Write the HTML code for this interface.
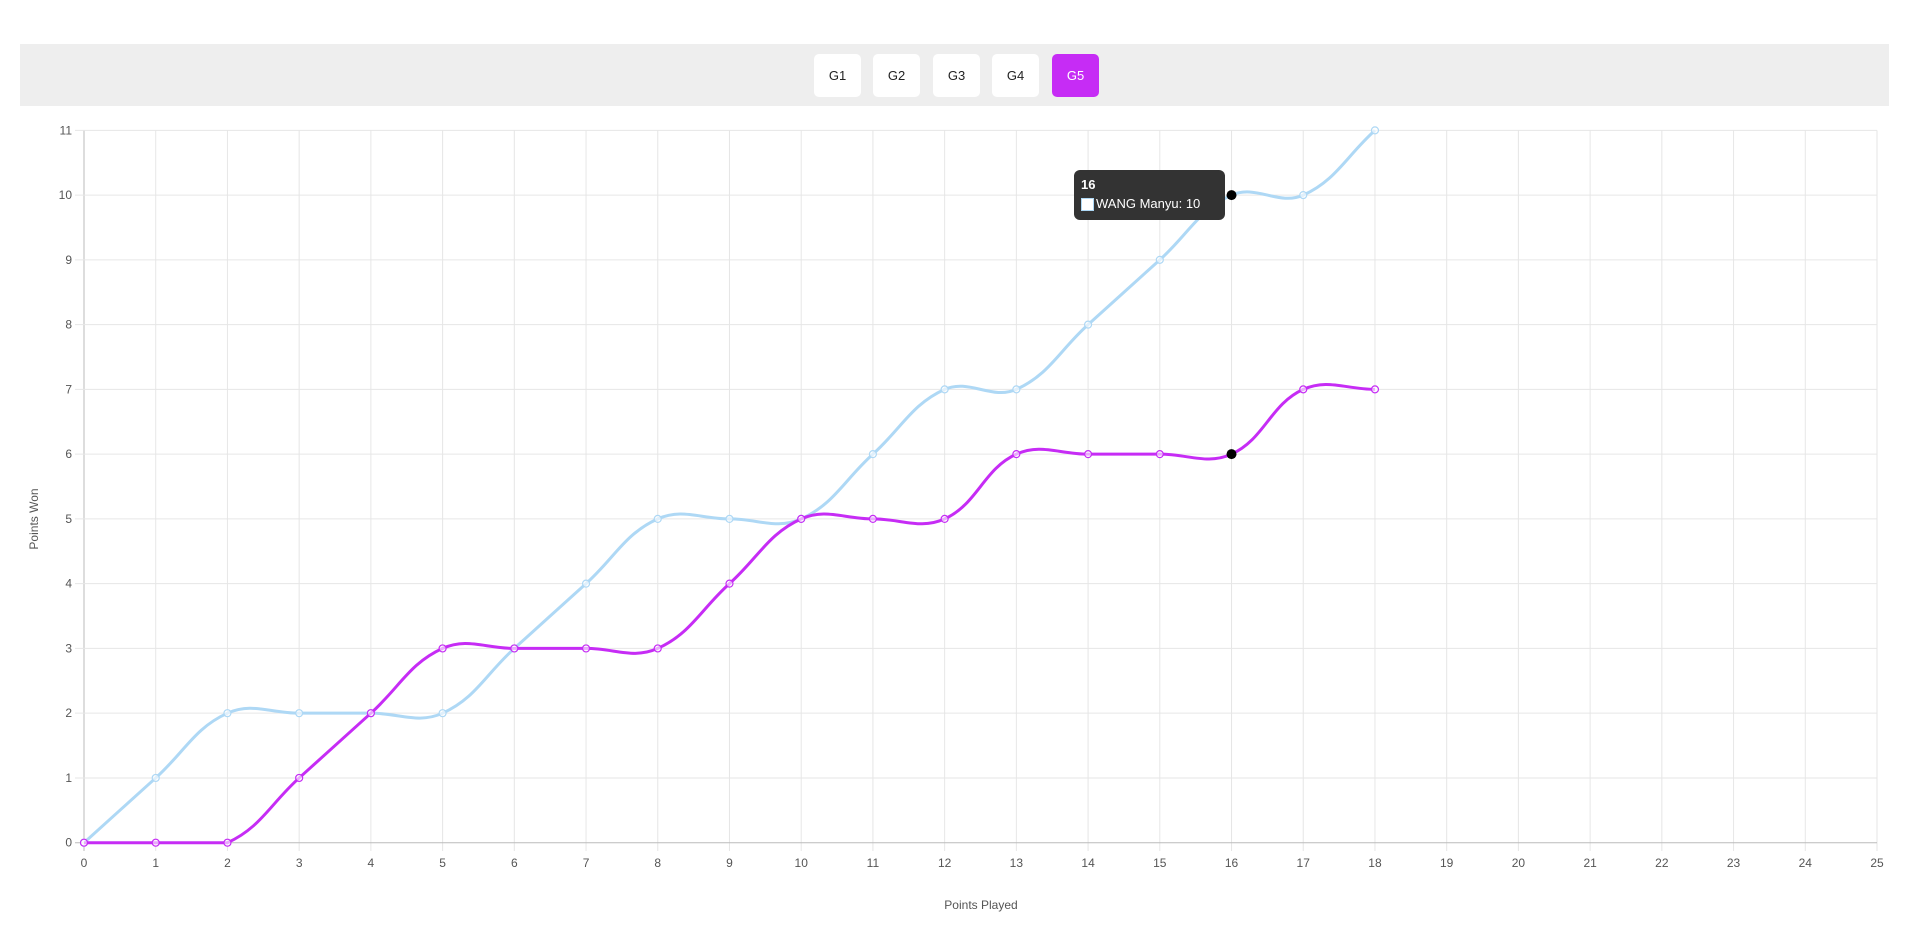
<!DOCTYPE html>
<html><head><meta charset="utf-8"><style>
html,body{margin:0;padding:0;background:#fff;width:1929px;height:936px;overflow:hidden;font-family:"Liberation Sans",sans-serif}
.bar{position:absolute;left:20px;top:44px;width:1869px;height:62px;background:#eeeeee}
.btn{position:absolute;top:54px;width:47px;height:43px;background:#fff;border-radius:5px;font-size:13px;line-height:43px;text-align:center;color:#222}
.act{background:#c62cf5;color:#fff}
.tip{position:absolute;left:1074px;top:170px;width:151px;height:50px;background:#333;border-radius:6px;color:#fff;font-size:13px}
</style></head><body>
<div class="bar"></div>
<div class="btn" style="left:814px">G1</div>
<div class="btn" style="left:873px">G2</div>
<div class="btn" style="left:933px">G3</div>
<div class="btn" style="left:992px">G4</div>
<div class="btn act" style="left:1052px">G5</div>
<svg id="s" width="1929" height="936" style="position:absolute;left:0;top:0" xmlns="http://www.w3.org/2000/svg"></svg>
<div class="tip"><div style="position:absolute;left:7px;top:7px;font-weight:bold">16</div>
<div style="position:absolute;left:7px;top:28px;width:13px;height:13px;background:#fff;border:1px solid #aed8f5;box-sizing:border-box"></div>
<div style="position:absolute;left:22px;top:26px">WANG Manyu: 10</div></div>
<script>
var s=document.getElementById('s'),h='';
var X0=84,XW=71.72,Y0=842.7,YH=64.76,YT=Y0-11*YH;
function px(i){return X0+i*XW} function py(v){return Y0-v*YH}
function cl(y){return Math.max(YT,Math.min(Y0,y))}
for(var i=0;i<=25;i++){var x=px(i);h+='<line x1="'+x+'" y1="'+YT+'" x2="'+x+'" y2="851" stroke="'+(i==0?'#bbb':'#e6e6e6')+'" stroke-width="1"/>';
h+='<text x="'+x+'" y="867" font-size="12" fill="#555" text-anchor="middle">'+i+'</text>';}
for(var j=0;j<=11;j++){var y=py(j);h+='<line x1="75" y1="'+y+'" x2="1877" y2="'+y+'" stroke="'+(j==0?'#bbb':'#e6e6e6')+'" stroke-width="1"/>';
h+='<text x="72" y="'+(y+4)+'" font-size="12" fill="#555" text-anchor="end">'+j+'</text>';}
h+='<text x="981" y="909" font-size="12" fill="#555" text-anchor="middle">Points Played</text>';
h+='<text transform="translate(38,519) rotate(-90)" font-size="12" fill="#555" text-anchor="middle">Points Won</text>';
function path(d,col){var p=d.map(function(v,i){return[px(i),py(v)]}),t=0.4,str='M'+p[0][0]+','+p[0][1];
var cps=p.map(function(c,i){var a=p[i-1]||c,b=p[i+1]||c;var d01=Math.hypot(c[0]-a[0],c[1]-a[1]),d12=Math.hypot(b[0]-c[0],b[1]-c[1]);
var s01=d01/(d01+d12)||0,s12=d12/(d01+d12)||0;var fa=t*s01,fb=t*s12;
return{p:[c[0]-fa*(b[0]-a[0]),cl(c[1]-fa*(b[1]-a[1]))],n:[c[0]+fb*(b[0]-a[0]),cl(c[1]+fb*(b[1]-a[1]))]}});
for(var i=1;i<p.length;i++){str+=' C'+cps[i-1].n[0]+','+cps[i-1].n[1]+' '+cps[i].p[0]+','+cps[i].p[1]+' '+p[i][0]+','+p[i][1];}
var r='<path d="'+str+'" fill="none" stroke="'+col+'" stroke-width="3"/>';
p.forEach(function(q){r+='<circle cx="'+q[0]+'" cy="'+q[1]+'" r="3.5" fill="#fff" fill-opacity="0.6" stroke="'+col+'" stroke-width="1.2"/>'});return r;}
h+=path([0,1,2,2,2,2,3,4,5,5,5,6,7,7,8,9,10,10,11],'#aed8f5');
h+=path([0,0,0,1,2,3,3,3,3,4,5,5,5,6,6,6,6,7,7],'#c62cf5');
h+='<circle cx="'+px(16)+'" cy="'+py(10)+'" r="5" fill="#000"/><circle cx="'+px(16)+'" cy="'+py(6)+'" r="5" fill="#000"/>';
s.innerHTML=h;
</script>
</body></html>
